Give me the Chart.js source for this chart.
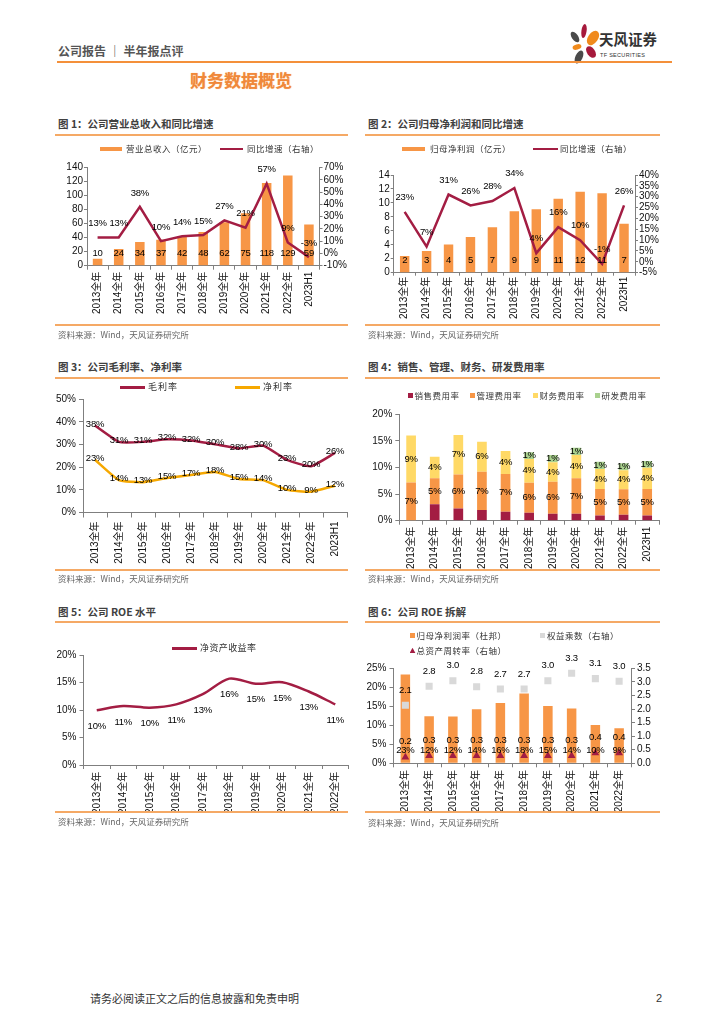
<!DOCTYPE html>
<html><head><meta charset="utf-8">
<script src="https://cdn.jsdelivr.net/npm/chart.js@4.4.0/dist/chart.umd.min.js"></script>
<style>
html,body{margin:0;padding:0;background:#fff}
body{width:724px;height:1024px;position:relative;overflow:hidden;font-family:'Noto Sans CJK SC','Noto Sans',sans-serif}
.t{position:absolute;white-space:nowrap;line-height:1}
.b{position:absolute}
canvas{position:absolute}
</style></head>
<body>
<svg class="b" style="left:566px;top:22px" width="34" height="44" viewBox="0 0 34 44">
 <ellipse cx="18" cy="9" rx="2.6" ry="7" fill="#A6193C" transform="rotate(8 18 9)"/>
 <ellipse cx="27" cy="16" rx="5" ry="8" fill="#F08A1C" transform="rotate(35 27 16)"/>
 <ellipse cx="9" cy="15" rx="3.2" ry="6" fill="#4a4a4a" transform="rotate(-35 9 15)"/>
 <ellipse cx="11" cy="25" rx="4.5" ry="2.6" fill="#F08A1C" transform="rotate(-15 11 25)"/>
 <ellipse cx="25" cy="30" rx="4" ry="6.5" fill="#A6193C" transform="rotate(-35 25 30)"/>
 <ellipse cx="13" cy="35" rx="3.6" ry="7" fill="#4a4a4a" transform="rotate(25 13 35)"/>
</svg>
<canvas id="c1" width="300" height="175" style="left:50px;top:150px"></canvas>
<canvas id="c2" width="310" height="175" style="left:362px;top:155px"></canvas>
<canvas id="c3" width="310" height="180" style="left:45px;top:390px"></canvas>
<canvas id="c4" width="310" height="170" style="left:362px;top:400px"></canvas>
<canvas id="c5" width="310" height="172" style="left:45px;top:640px"></canvas>
<canvas id="c6" width="310" height="167" style="left:362px;top:645px"></canvas>
<script>
// ---------- DATA ----------
const years11 = ['2013全年','2014全年','2015全年','2016全年','2017全年','2018全年','2019全年','2020全年','2021全年','2022全年','2023H1'];
const years10 = ['2013全年','2014全年','2015全年','2016全年','2017全年','2018全年','2019全年','2020全年','2021全年','2022全年'];
const revenue = [10,24,34,37,42,48,62,75,118,129,59];
const revenueGrowth = [13,13,38,10,14,15,27,21,57,9,-3];
const netProfit = [2.4,3.1,4.05,5.1,6.5,8.8,9.1,10.6,11.6,11.4,7.0];
const netProfitGrowth = [23,7,31,26,28,34,4,16,10,-1,26];
const grossMargin = [38.4,31.2,31.2,32.3,31.8,30.1,28.3,29.6,23.2,20.4,26.3];
const netMargin = [23.3,14.3,13.4,15.2,16.6,17.9,14.8,14.3,10.0,9.2,11.8];
const sellingRate = [0,3.1,2.3,2.0,1.7,1.5,1.3,1.3,1.0,1.1,1.0];
const adminRate = [7.2,4.9,6.4,7.2,7.1,5.65,6.0,6.7,4.95,4.8,4.95];
const financeRate = [8.8,4.0,7.4,5.65,4.3,4.45,3.7,4.35,3.75,3.6,4.0];
const rdRate = [0,0,0,0,0,1.25,1.35,1.35,1.4,1.3,1.25];
const roe = [10.0,10.75,10.45,11.05,12.9,15.75,14.8,15.1,13.4,11.05];
const dupontNetMargin = [23.4,12.4,12.3,14.2,15.9,18.4,15.1,14.4,10.1,9.2];
const equityMultiplier = [2.14,2.84,3.04,2.82,2.74,2.74,3.04,3.32,3.12,3.02];
const assetTurnover = [0.22,0.28,0.28,0.28,0.28,0.28,0.28,0.28,0.38,0.38];

// ---------- STYLE ----------
const ORANGE='#F79646', RED='#A31D43', YEL='#F6A800', FIN='#FFD966', GRN='#A9D18E', GRY='#D9D9D9', AX='#7F7F7F';
Chart.defaults.font.family = "'Liberation Sans', Arial, 'Noto Sans CJK SC', sans-serif";
Chart.defaults.font.size = 10;
Chart.defaults.color = '#111';

function addText(x, yc, txt, size, color, extra){
  const d=document.createElement('div'); d.className='t'; d.textContent=txt;
  d.style.left=x+'px'; d.style.top=(yc-size*0.56)+'px'; d.style.fontSize=size+'px'; d.style.color=color;
  if(extra) Object.assign(d.style, extra);
  document.body.appendChild(d); return d;
}
function addBox(x,y,w,h,bg,extra){
  const d=document.createElement('div'); d.className='b';
  Object.assign(d.style,{left:x+'px',top:y+'px',width:w+'px',height:h+'px',background:bg});
  if(extra) Object.assign(d.style, extra);
  document.body.appendChild(d); return d;
}
// page header
addText(58,52,'公司报告 ｜ 半年报点评',12,'#555',{fontWeight:'bold'});
addBox(57,61,615,2,'#F4903A');
addText(599,40,'天风证券',14.5,'#333',{fontWeight:'bold'});
addText(600,56.5,'TF SECURITIES',5.5,'#333',{fontFamily:'Liberation Sans, Arial',letterSpacing:'0.3px'});
addText(190,81,'财务数据概览',17,'#F0883A',{fontWeight:'bold',textShadow:'0 0 1px #f7b57a'});
// footer
addText(90,999,'请务必阅读正文之后的信息披露和免责申明',11,'#333');
addText(656,999,'2',11,'#333',{fontFamily:'Liberation Sans, Arial'});

const lineColor='#F5A965';
function panel(x0,x1,yTitle,yLine1,yLine2,ySrc,title){
  addText(x0+3,yTitle,title,10.5,'#404040',{fontWeight:'bold'});
  addBox(x0,yLine1,x1-x0,1.5,lineColor);
  addBox(x0,yLine2,x1-x0,1.5,lineColor);
  addText(x0+3,ySrc,'资料来源：Wind，天风证券研究所',8.5,'#666');
}
panel(55,348,125,134,324,335,'图 1：公司营业总收入和同比增速');
panel(365,660,125,134,324,335,'图 2：公司归母净利润和同比增速');
panel(55,348,368.3,377,569,578.3,'图 3：公司毛利率、净利率');
panel(365,660,368.3,377,569,578.3,'图 4：销售、管理、财务、研发费用率');
panel(55,348,612.7,621,811,821.7,'图 5：公司 ROE 水平');
panel(365,660,612.7,621,811,822.3,'图 6：公司 ROE 拆解');

// legends
function legText(x,y,t){ return addText(x,y,t,8.5,'#333',{letterSpacing:'0.5px'}); }
addBox(100,147,22,4,ORANGE); legText(126,149,'营业总收入（亿元）');
addBox(220,147.8,23,2.5,RED); legText(247,149,'同比增速（右轴）');
addBox(402,147,23,4,ORANGE); legText(430,149,'归母净利润（亿元）');
addBox(533,147.8,25,2.5,RED); legText(560,149,'同比增速（右轴）');
addBox(120,386.2,25,2.5,RED); addText(148,387.3,'毛利率',9,'#333',{letterSpacing:'1px'});
addBox(235,386.2,25,2.5,YEL); addText(263,387.3,'净利率',9,'#333',{letterSpacing:'1px'});
[[408,RED,'销售费用率'],[470,ORANGE,'管理费用率'],[533,FIN,'财务费用率'],[595,GRN,'研发费用率']].forEach(a=>{
  addBox(a[0],393.3,5,5,a[1]); legText(a[0]+6.5,395.7,a[2]);
});
addBox(171.7,647.1,25,2.5,RED); addText(200,648.3,'净资产收益率',9,'#333',{letterSpacing:'0.4px'});
addBox(410,633.3,5,5,ORANGE); legText(416.5,635.7,'归母净利润率（杜邦）');
addBox(540,633.3,5,5,GRY); legText(547,635.7,'权益乘数（右轴）');
addBox(409.5,647.8,6,5.5,RED,{clipPath:'polygon(50% 0,100% 100%,0 100%)'}); legText(416.5,650.7,'总资产周转率（右轴）');

// ---------- value label plugin ----------
const valueLabels={
  id:'valueLabels',
  afterDatasetsDraw(chart){
    const ctx=chart.ctx; ctx.save();
    chart.data.datasets.forEach((ds,i)=>{
      const L=ds.valueLabel; if(!L) return;
      const meta=chart.getDatasetMeta(i);
      ctx.font=(L.size||9.5)+"px 'Liberation Sans', Arial, sans-serif";
      ctx.fillStyle=L.color||'#000'; ctx.textAlign='center'; ctx.textBaseline='middle';
      try{ ctx.letterSpacing='-0.2px'; }catch(e){}
      meta.data.forEach((el,j)=>{
        const v=ds.data[j];
        if(v==null) return;
        if(L.min!==undefined && v<L.min) return;
        const p=el.getProps(['x','y','base'],true);
        let y;
        if(L.mode==='base') y=p.base-L.dy;
        else if(L.mode==='center') y=(p.y+p.base)/2;
        else y=p.y+L.dy;
        ctx.fillText(L.fmt(v),p.x,y);
      });
    });
    ctx.restore();
  }
};
Chart.register(valueLabels);

const fixW=w=>s=>{s.width=w;};
const fixH=h=>s=>{s.height=h;};
function xAxis(h,tl,pad){
  return {offset:true,grid:{offset:true,drawOnChartArea:false,tickLength:tl,color:AX},border:{color:AX},
    ticks:{minRotation:90,maxRotation:90,autoSkip:false,padding:pad,font:{size:10},color:'#111'},afterFit:fixH(h)};
}
function yAxis(pos,min,max,step,fmt,w,tl,pad,stacked){
  return {position:pos,min:min,max:max,stacked:!!stacked,grid:{drawOnChartArea:false,tickLength:tl,color:AX},border:{color:AX},
    ticks:{stepSize:step,autoSkip:false,callback:fmt,padding:pad,color:'#111',font:{size:10}},afterFit:fixW(w)};
}
const base={responsive:false,animation:false,devicePixelRatio:1,plugins:{legend:{display:false},tooltip:{enabled:false}}};
const pct=v=>v+'%';
const r0=v=>String(Math.round(v));
const p0=v=>Math.round(v)+'%';

// Chart 1
new Chart(document.getElementById('c1'),{type:'bar',
  data:{labels:years11,datasets:[
    {type:'line',label:'同比增速（右轴）',data:revenueGrowth,yAxisID:'y1',borderColor:RED,borderWidth:2.5,pointRadius:0,tension:0,order:0,
      valueLabel:{mode:'point',dy:-14,fmt:p0}},
    {type:'bar',label:'营业总收入（亿元）',data:revenue,yAxisID:'y',backgroundColor:ORANGE,barPercentage:0.45,categoryPercentage:1,order:1,
      valueLabel:{mode:'base',dy:11.5,fmt:r0}}
  ]},
  options:Object.assign({},base,{layout:{padding:{top:17.7,left:0,right:0,bottom:0}},
    scales:{x:xAxis(59.3,4,2),y:yAxis('left',0,140,20,v=>v,37,3,1),y1:yAxis('right',-10,70,10,pct,30.5,3,1)}})
});
// Chart 2
new Chart(document.getElementById('c2'),{type:'bar',
  data:{labels:years11,datasets:[
    {type:'line',label:'同比增速（右轴）',data:netProfitGrowth,yAxisID:'y1',borderColor:RED,borderWidth:2.5,pointRadius:0,tension:0,order:0,
      valueLabel:{mode:'point',dy:-14.5,fmt:p0}},
    {type:'bar',label:'归母净利润（亿元）',data:netProfit,yAxisID:'y',backgroundColor:ORANGE,barPercentage:0.43,categoryPercentage:1,order:1,
      valueLabel:{mode:'base',dy:11.7,fmt:r0}}
  ]},
  options:Object.assign({},base,{layout:{padding:{top:20,left:0,right:0,bottom:0}},
    scales:{x:xAxis(57.3,3,1),y:yAxis('left',0,14,2,v=>v,31.7,3,1),y1:yAxis('right',-5,40,5,pct,37,3,1)}})
});
// Chart 3
new Chart(document.getElementById('c3'),{type:'line',
  data:{labels:years11,datasets:[
    {label:'毛利率',data:grossMargin,borderColor:RED,borderWidth:2.5,pointRadius:0,tension:0.15,
      valueLabel:{mode:'point',dy:-1.5,fmt:p0}},
    {label:'净利率',data:netMargin,borderColor:YEL,borderWidth:2.5,pointRadius:0,tension:0.15,
      valueLabel:{mode:'point',dy:-1.5,fmt:p0}}
  ]},
  options:Object.assign({},base,{layout:{padding:{top:9.3,left:0,right:8,bottom:0}},
    scales:{x:xAxis(57.5,5,4),y:yAxis('left',0,50,10,pct,38,4,3)}})
});
// Chart 4
new Chart(document.getElementById('c4'),{type:'bar',
  data:{labels:years11,datasets:[
    {label:'销售费用率',data:sellingRate,backgroundColor:RED,barPercentage:0.41,categoryPercentage:1},
    {label:'管理费用率',data:adminRate,backgroundColor:ORANGE,barPercentage:0.41,categoryPercentage:1,valueLabel:{mode:'center',min:0.5,fmt:p0}},
    {label:'财务费用率',data:financeRate,backgroundColor:FIN,barPercentage:0.41,categoryPercentage:1,valueLabel:{mode:'center',min:0.5,fmt:p0}},
    {label:'研发费用率',data:rdRate,backgroundColor:GRN,barPercentage:0.41,categoryPercentage:1,valueLabel:{mode:'center',min:0.5,fmt:p0}}
  ]},
  options:Object.assign({},base,{layout:{padding:{top:14.3,left:0,right:13,bottom:0}},
    scales:{x:Object.assign(xAxis(49.3,4,2),{stacked:true}),y:yAxis('left',0,20,5,pct,37.3,4,3,true)}})
});
// Chart 5
new Chart(document.getElementById('c5'),{type:'line',
  data:{labels:years10,datasets:[
    {label:'净资产收益率',data:roe,borderColor:RED,borderWidth:2.5,pointRadius:0,tension:0.3,
      valueLabel:{mode:'point',dy:16,fmt:p0}}
  ]},
  options:Object.assign({},base,{layout:{padding:{top:15.3,left:0,right:6.5,bottom:0}},
    scales:{x:xAxis(47,4,2.7),y:yAxis('left',0,20,5,pct,38.5,4,3)}})
});
// Chart 6
new Chart(document.getElementById('c6'),{type:'bar',
  data:{labels:years10,datasets:[
    {type:'line',label:'总资产周转率（右轴）',data:assetTurnover,yAxisID:'y1',showLine:false,pointStyle:'triangle',pointRadius:4.5,
      backgroundColor:RED,borderColor:RED,borderWidth:0,order:0,valueLabel:{mode:'point',dy:-15.5,fmt:v=>v.toFixed(1)}},
    {type:'line',label:'权益乘数（右轴）',data:equityMultiplier,yAxisID:'y1',showLine:false,pointStyle:'rect',pointRadius:5,
      backgroundColor:GRY,borderColor:GRY,borderWidth:0,order:1,valueLabel:{mode:'point',dy:-15,fmt:v=>v.toFixed(1)}},
    {type:'bar',label:'归母净利润率（杜邦）',data:dupontNetMargin,yAxisID:'y',backgroundColor:ORANGE,barPercentage:0.4,categoryPercentage:1,order:2,
      valueLabel:{mode:'base',dy:12,fmt:p0}}
  ]},
  options:Object.assign({},base,{layout:{padding:{top:23.3,left:0,right:0,bottom:0}},
    scales:{x:xAxis(48.7,4,2.7),y:yAxis('left',0,25,5,pct,31.5,4,3),y1:yAxis('right',0,3.5,0.5,v=>v.toFixed(1),41,4,2)}})
});
</script>
</body></html>
